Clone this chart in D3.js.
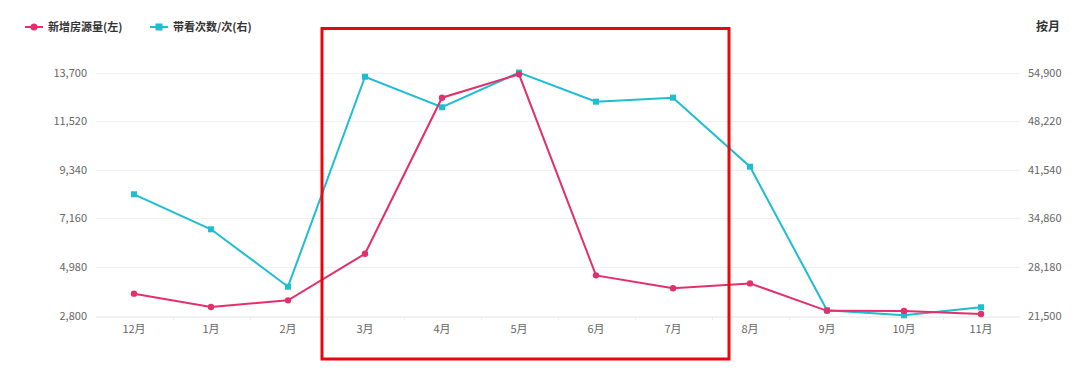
<!DOCTYPE html>
<html><head><meta charset="utf-8">
<script src="https://cdn.jsdelivr.net/npm/d3@7/dist/d3.min.js"></script>
<style>
html,body{margin:0;padding:0;background:#fff;}
text{font-family:"Noto Sans CJK SC","Microsoft YaHei",sans-serif;}
</style></head><body>
<svg id="chart" width="1080" height="372"></svg>
<script>
const months = ["12月","1月","2月","3月","4月","5月","6月","7月","8月","9月","10月","11月"];
const listings = [3780,3180,3480,5570,12570,13620,4600,4020,4240,3010,3000,2870];
const viewings = [38160,33350,25460,54320,50120,54900,50890,51440,41950,22220,21530,22630];
const leftTicks = [2800,4980,7160,9340,11520,13700];
const rightTicks = [21500,28180,34860,41540,48220,54900];
const seriesNames = ["新增房源量(左)","带看次数/次(右)"];
const periodLabel = "按月";
const highlight = ["3月","7月"];

const pink = "#e2306c", cyan = "#1fbdd2";
const svg = d3.select("#chart");
const pLeft = 95.5, pRight = 1019.5, pTop = 72.5, pBottom = 315.5;

const x = d3.scaleBand().domain(months).range([pLeft, pRight]);
const yL = d3.scaleLinear().domain([2800,13700]).range([pBottom, pTop]);
const yR = d3.scaleLinear().domain([21500,54900]).range([pBottom, pTop]);

// gridlines
svg.append("g").selectAll("line").data(leftTicks.slice(1)).join("line")
  .attr("x1", pLeft).attr("x2", pRight)
  .attr("y1", d => Math.round(yL(d)) + 0.5).attr("y2", d => Math.round(yL(d)) + 0.5)
  .attr("stroke", "#f0f0f0");

// x axis
const xa = svg.append("g").attr("transform", `translate(0,${Math.round(pBottom)+0.5})`)
  .call(d3.axisBottom(x).tickSize(0).tickPadding(9));
xa.select(".domain").attr("stroke", "#e3e3e3");
xa.selectAll("text").attr("fill", "#666").style("font-size", "11px");
svg.append("g").selectAll("line").data(months.slice(1)).join("line")
  .attr("x1", d => Math.round(x(d)) + 0.5).attr("x2", d => Math.round(x(d)) + 0.5)
  .attr("y1", Math.round(pBottom)+0.5).attr("y2", Math.round(pBottom)+4)
  .attr("stroke", "#eeeeee");

// left axis
const la = svg.append("g").attr("transform", `translate(87,0)`)
  .call(d3.axisLeft(yL).tickValues(leftTicks).tickSize(0).tickPadding(0).tickFormat(d3.format(",")));
la.select(".domain").remove();
la.selectAll("text").attr("fill", "#666").style("font-size", "11px");

// right axis
const ra = svg.append("g").attr("transform", `translate(1028,0)`)
  .call(d3.axisRight(yR).tickValues(rightTicks).tickSize(0).tickPadding(0).tickFormat(d3.format(",")));
ra.select(".domain").remove();
ra.selectAll("text").attr("fill", "#666").style("font-size", "11px");

const cx = d => x(d) + x.bandwidth()/2;

// cyan line
svg.append("path").datum(viewings)
  .attr("fill","none").attr("stroke", cyan).attr("stroke-width", 2)
  .attr("d", d3.line().x((d,i) => cx(months[i])).y(d => yR(d)));
svg.append("g").selectAll("rect").data(viewings).join("rect")
  .attr("x", (d,i) => cx(months[i]) - 3).attr("y", d => yR(d) - 3)
  .attr("width", 6).attr("height", 6).attr("fill", cyan);

// pink line
svg.append("path").datum(listings)
  .attr("fill","none").attr("stroke", pink).attr("stroke-width", 2)
  .attr("d", d3.line().x((d,i) => cx(months[i])).y(d => yL(d)));
svg.append("g").selectAll("circle").data(listings).join("circle")
  .attr("cx", (d,i) => cx(months[i])).attr("cy", d => yL(d))
  .attr("r", 3.2).attr("fill", pink);

// legend
const lg = svg.append("g");
const legendX = [25, 150];
const colors = [pink, cyan];
seriesNames.forEach((name, i) => {
  const g = lg.append("g").attr("transform", `translate(${legendX[i]},27)`);
  g.append("line").attr("x1", 0).attr("x2", 18).attr("y1", 0).attr("y2", 0)
    .attr("stroke", colors[i]).attr("stroke-width", 2);
  if (i === 0) g.append("circle").attr("cx", 9).attr("cy", 0).attr("r", 3.5).attr("fill", colors[i]);
  else g.append("rect").attr("x", 5.5).attr("y", -3.5).attr("width", 7).attr("height", 7).attr("fill", colors[i]);
  g.append("text").attr("x", 23).attr("y", 4).attr("fill", "#333")
    .style("font-size", "11px").style("font-weight", "600").text(name);
});

svg.append("text").attr("x", 1060).attr("y", 31).attr("text-anchor", "end")
  .attr("fill", "#333").style("font-size", "12px").style("font-weight", "bold").text(periodLabel);

// red highlight box
const bx0 = x(highlight[0]) - 4.5, bx1 = x(highlight[1]) + x.bandwidth() + 17.5;
svg.append("rect").attr("x", bx0).attr("y", 28.5).attr("width", bx1 - bx0).attr("height", 330.5)
  .attr("fill", "none").attr("stroke", "#e8070b").attr("stroke-width", 3);
</script>
</body></html>
